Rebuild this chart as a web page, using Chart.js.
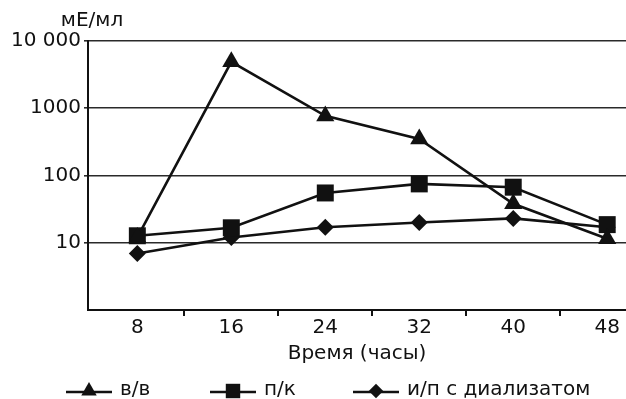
<!DOCTYPE html>
<html>
<head>
<meta charset="utf-8">
<script src="https://cdn.jsdelivr.net/npm/chart.js@4"></script>
<style>
  html, body { margin: 0; padding: 0; background: #fff; }
  #wrap { width: 626px; height: 399px; }
</style>
</head>
<body>
<div id="wrap"><canvas id="chart" width="626" height="399"></canvas></div>
<script>
// Data
const hours = [8, 16, 24, 32, 40, 48];
const vvValues = [12, 4900, 770, 350, 38, 11.5];      // в/в
const pkValues = [12.7, 16.7, 55, 75, 67, 18.6];      // п/к
const ipValues = [6.9, 12, 17, 20, 23, 17];           // и/п с диализатом
const seriesNames = ['в/в', 'п/к', 'и/п с диализатом'];
const yTicks = [1, 10, 100, 1000, 10000];
const yTickLabels = ['', '10', '100', '1000', '10 000'];
const unitLabel = 'мЕ/мл';
const xTitle = 'Время (часы)';

const ink = '#111';
const FONT = "'DejaVu Sans', sans-serif";

Chart.defaults.font.family = FONT;
Chart.defaults.font.size = 20;
Chart.defaults.color = ink;

function toPoints(values) {
  return hours.map((h, i) => ({ x: h, y: values[i] }));
}

function makeSeries(label, values, style, radius) {
  return {
    label,
    data: toPoints(values),
    borderColor: ink,
    backgroundColor: ink,
    borderWidth: 2.6,
    pointStyle: style,
    pointRadius: radius,
    pointHoverRadius: radius,
    pointBorderWidth: 0,
    tension: 0
  };
}

// draws the unit label over the y axis
const unitPlugin = {
  id: 'unitLabel',
  afterDraw(chart) {
    const { ctx, chartArea } = chart;
    ctx.save();
    ctx.font = `20px ${FONT}`;
    ctx.fillStyle = ink;
    ctx.textAlign = 'center';
    ctx.textBaseline = 'middle';
    ctx.fillText(unitLabel, chartArea.left + 4, chartArea.top - 20);
    ctx.restore();
  }
};

// legend with a short line through each marker
const lineLegend = {
  id: 'lineLegend',
  afterDraw(chart, args, opts) {
    const { ctx } = chart;
    ctx.save();
    opts.items.forEach((item, i) => {
      const ds = chart.data.datasets[i];
      const cy = opts.y;
      ctx.strokeStyle = ink;
      ctx.fillStyle = ink;
      ctx.lineWidth = 2.5;
      ctx.beginPath();
      ctx.moveTo(item.x0, cy + 2);
      ctx.lineTo(item.x1, cy + 2);
      ctx.stroke();
      Chart.helpers.drawPoint(ctx, {
        pointStyle: ds.pointStyle,
        radius: ds.pointRadius * 0.85,
        rotation: 0,
        borderWidth: 0
      }, (item.x0 + item.x1) / 2, cy + 1);
      ctx.font = `20px ${FONT}`;
      ctx.textAlign = 'left';
      ctx.textBaseline = 'middle';
      ctx.fillText(ds.label, item.textX, cy);
    });
    ctx.restore();
  }
};

new Chart(document.getElementById('chart'), {
  type: 'line',
  data: {
    datasets: [
      makeSeries(seriesNames[0], vvValues, 'triangle', 10.5),
      makeSeries(seriesNames[1], pkValues, 'rect', 12),
      makeSeries(seriesNames[2], ipValues, 'rectRot', 8.5)
    ]
  },
  options: {
    responsive: false,
    animation: false,
    layout: { autoPadding: false, padding: { top: 41, right: 0, bottom: 35, left: 0 } },
    plugins: {
      legend: { display: false },
      tooltip: { enabled: false },
      lineLegend: {
        y: 390,
        items: [
          { x0: 66, x1: 112, textX: 120 },
          { x0: 210, x1: 256, textX: 264 },
          { x0: 353, x1: 399, textX: 407 }
        ]
      }
    },
    scales: {
      x: {
        type: 'linear',
        min: 3.8,
        max: 49.6,
        afterBuildTicks(scale) {
          const t = [];
          for (let v = 8; v <= 48; v += 4) t.push({ value: v });
          scale.ticks = t;
        },
        afterFit(scale) { scale.height = 54; },
        ticks: {
          autoSkip: false,
          maxRotation: 0,
          padding: 0,
          callback: v => (v % 8 === 0 ? String(v) : '')
        },
        grid: {
          drawOnChartArea: false,
          drawTicks: true,
          tickLength: 6,
          lineWidth: 2,
          color: ctx => (ctx.tick && ctx.tick.value % 8 === 4 ? ink : 'rgba(0,0,0,0)')
        },
        border: { color: ink, width: 2 },
        title: {
          display: true,
          text: xTitle,
          padding: { top: 0, bottom: -2 }
        }
      },
      y: {
        type: 'logarithmic',
        min: 1,
        max: 10000,
        afterBuildTicks(scale) {
          scale.ticks = yTicks.map(v => ({ value: v }));
        },
        afterFit(scale) { scale.width = 88; },
        ticks: {
          padding: 3,
          callback: (v) => yTickLabels[yTicks.indexOf(v)]
        },
        grid: {
          drawTicks: true,
          tickLength: 4,
          lineWidth: 1.6,
          color: ctx => (ctx.tick && ctx.tick.value === 1 ? 'rgba(0,0,0,0)' : '#2a2a2a')
        },
        border: { color: ink, width: 2 }
      }
    }
  },
  plugins: [unitPlugin, lineLegend]
});
</script>
</body>
</html>
